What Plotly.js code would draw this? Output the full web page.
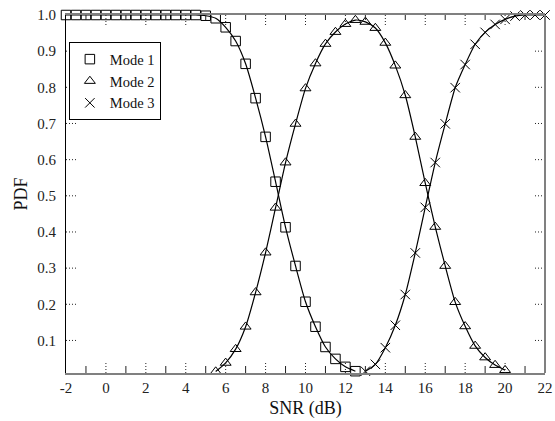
<!DOCTYPE html>
<html>
<head>
<meta charset="utf-8">
<script src="https://cdn.plot.ly/plotly-3.0.1.min.js"></script>
<style>html,body{margin:0;padding:0;background:#fff;}#chart{width:555px;height:421px;}</style>
</head>
<body>
<div id="chart"></div>
<script>
// SNR (dB) sample points
const snrMode1 = [-2,-1.5,-1,-0.5,0,0.5,1,1.5,2,2.5,3,3.5,4,4.5,5,5.5,6,6.5,7,7.5,8,8.5,9,9.5,10,10.5,11,11.5,12,12.5];
const pdfMode1 = [1,1,1,1,1,1,1,1,1,1,1,1,1,1,0.998,0.991,0.966,0.928,0.865,0.770,0.663,0.539,0.413,0.306,0.207,0.138,0.082,0.049,0.027,0.015];

const snrMode2 = [5.5,6,6.5,7,7.5,8,8.5,9,9.5,10,10.5,11,11.5,12,12.5,13,13.5,14,14.5,15,15.5,16,16.5,17,17.5,18,18.5,19,19.5,20];
const pdfMode2 = [0.014,0.038,0.076,0.138,0.233,0.343,0.467,0.592,0.699,0.797,0.866,0.920,0.953,0.975,0.986,0.981,0.964,0.923,0.860,0.778,0.663,0.535,0.414,0.306,0.206,0.139,0.085,0.053,0.032,0.018];

const snrMode3 = [13,13.5,14,14.5,15,15.5,16,16.5,17,17.5,18,18.5,19,19.5,20,20.5,21,21.5,22];
const pdfMode3 = [0.015,0.034,0.080,0.142,0.227,0.342,0.468,0.592,0.699,0.799,0.863,0.919,0.952,0.974,0.988,0.997,1,1,1];

const seriesNames = ['Mode 1','Mode 2','Mode 3'];
const xTickVals = [-2,0,2,4,6,8,10,12,14,16,18,20,22];
const xMinorVals = [-1,1,3,5,7,9,11,13,15,17,19,21];
const yTickVals = [0.1,0.2,0.3,0.4,0.5,0.6,0.7,0.8,0.9,1.0];

const FONT = '"Times New Roman", "Liberation Serif", "Nimbus Roman", "DejaVu Serif", serif';

function lineTrace(x, y, name) {
  return {
    x: x, y: y, name: name, legendgroup: name, showlegend: false,
    type: 'scatter', mode: 'lines',
    line: {color: '#000', width: 1.2, shape: 'spline', smoothing: 0.6},
    hoverinfo: 'skip'
  };
}
function markerTrace(x, y, name, symbol) {
  return {
    x: x, y: y, name: name, legendgroup: name, showlegend: true,
    type: 'scatter', mode: 'markers',
    marker: {symbol: symbol, size: 9.5, color: '#000', line: {color: '#000', width: 1}},
    cliponaxis: false
  };
}

const data = [
  lineTrace(snrMode1, pdfMode1, seriesNames[0]),
  lineTrace(snrMode2, pdfMode2, seriesNames[1]),
  lineTrace(snrMode3, pdfMode3, seriesNames[2]),
  markerTrace(snrMode1, pdfMode1, seriesNames[0], 'square-open'),
  markerTrace(snrMode2, pdfMode2, seriesNames[1], 'triangle-up-open'),
  markerTrace(snrMode3, pdfMode3, seriesNames[2], 'x-thin-open')
];

// tick marks in the reference style (dotted at labelled values, short solid between)
const shapes = [];
const plotH = 421 - 15 - 48;
const plotW = 555 - 66 - 10;
const dotLine = {color: '#222', width: 1, dash: '1px,2px'};
xTickVals.forEach(v => {
  if (v === -2 || v === 22) return;
  shapes.push({type:'line', xref:'x', yref:'paper', x0:v, x1:v, y0:0, y1:12/plotH, line:dotLine});
  shapes.push({type:'line', xref:'x', yref:'paper', x0:v, x1:v, y0:1, y1:1-12/plotH, line:dotLine});
});
xMinorVals.forEach(v => {
  shapes.push({type:'line', xref:'x', yref:'paper', x0:v, x1:v, y0:0, y1:7/plotH, line:{color:'#222', width:1}});
  shapes.push({type:'line', xref:'x', yref:'paper', x0:v, x1:v, y0:1, y1:1-5/plotH, line:{color:'#222', width:1}});
});
yTickVals.forEach(v => {
  if (v >= 1) return;
  shapes.push({type:'line', xref:'paper', yref:'y', x0:0, x1:10/plotW, y0:v, y1:v, line:dotLine});
  shapes.push({type:'line', xref:'paper', yref:'y', x0:1, x1:1-10/plotW, y0:v, y1:v, line:dotLine});
});
// right border (gray)
shapes.push({type:'line', xref:'paper', yref:'paper', x0:1, x1:1, y0:0, y1:1, line:{color:'#808080', width:2}});

const layout = {
  width: 555, height: 421,
  margin: {l: 66, r: 10, t: 15, b: 48},
  paper_bgcolor: '#fff', plot_bgcolor: '#fff',
  font: {family: FONT, color: '#222', size: 15},
  showlegend: true,
  legend: {
    x: 0.006, y: 0.924, xanchor: 'left', yanchor: 'top',
    bordercolor: '#000', borderwidth: 1, bgcolor: '#fff',
    font: {family: FONT, size: 14.5, color: '#111'},
    itemwidth: 30, tracegroupgap: 0, traceorder: 'normal'
  },
  xaxis: {
    range: [-2, 22], tickvals: xTickVals, ticktext: xTickVals.map(String),
    ticks: '', showgrid: false, zeroline: false,
    showline: true, linecolor: '#808080', linewidth: 2, mirror: true,
    tickfont: {family: FONT, size: 15, color: '#222'},
    title: {text: 'SNR (dB)', font: {family: FONT, size: 18, color: '#111'}, standoff: 6}
  },
  yaxis: {
    range: [0.01, 1.0], tickvals: yTickVals, tickformat: '.1f',
    ticks: '', showgrid: false, zeroline: false,
    showline: true, linecolor: '#000', linewidth: 1,
    tickfont: {family: FONT, size: 15, color: '#222'},
    ticklabelstandoff: 6,
    title: {text: 'PDF', font: {family: FONT, size: 18, color: '#111'}, standoff: 4}
  },
  shapes: shapes
};

Plotly.newPlot('chart', data, layout, {displayModeBar: false, staticPlot: true});
</script>
</body>
</html>
